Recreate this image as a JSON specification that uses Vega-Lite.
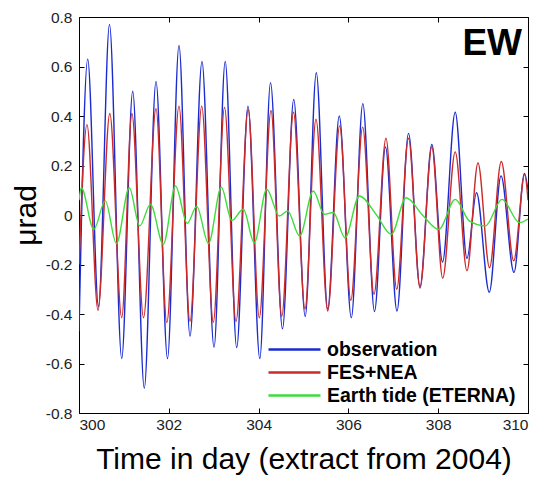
{
  "$schema": "https://vega.github.io/schema/vega-lite/v6.json",
  "width": 449,
  "height": 396,
  "autosize": {"type": "none"},
  "padding": {"left": 79, "top": 17, "right": 27, "bottom": 66},
  "background": "white",
  "config": {
    "font": "Liberation Sans",
    "view": {"stroke": null},
    "axis": {
      "grid": false,
      "domainColor": "#000",
      "domainWidth": 1,
      "tickColor": "#000",
      "tickSize": -5,
      "labelColor": "#222",
      "labelFontSize": 15.5,
      "labelPadding": 12,
      "titleColor": "#000",
      "titleFontWeight": "normal",
      "titleFontSize": 30
    }
  },
  "title": {
    "text": "EW",
    "anchor": "end",
    "frame": "group",
    "orient": "top",
    "offset": -53,
    "dx": -6,
    "fontSize": 37,
    "fontWeight": "bold",
    "color": "#000"
  },
  "data": {
    "values": [
      {"t": 300.000, "v": -0.47, "s": "observation"},
      {"t": 300.194, "v": 0.63, "s": "observation"},
      {"t": 300.434, "v": -0.37, "s": "observation"},
      {"t": 300.679, "v": 0.77, "s": "observation"},
      {"t": 300.951, "v": -0.58, "s": "observation"},
      {"t": 301.196, "v": 0.50, "s": "observation"},
      {"t": 301.454, "v": -0.70, "s": "observation"},
      {"t": 301.715, "v": 0.54, "s": "observation"},
      {"t": 301.971, "v": -0.58, "s": "observation"},
      {"t": 302.227, "v": 0.685, "s": "observation"},
      {"t": 302.472, "v": -0.49, "s": "observation"},
      {"t": 302.739, "v": 0.62, "s": "observation"},
      {"t": 303.007, "v": -0.535, "s": "observation"},
      {"t": 303.256, "v": 0.62, "s": "observation"},
      {"t": 303.512, "v": -0.536, "s": "observation"},
      {"t": 303.764, "v": 0.44, "s": "observation"},
      {"t": 304.027, "v": -0.58, "s": "observation"},
      {"t": 304.265, "v": 0.535, "s": "observation"},
      {"t": 304.532, "v": -0.46, "s": "observation"},
      {"t": 304.782, "v": 0.467, "s": "observation"},
      {"t": 305.038, "v": -0.41, "s": "observation"},
      {"t": 305.285, "v": 0.575, "s": "observation"},
      {"t": 305.539, "v": -0.38, "s": "observation"},
      {"t": 305.797, "v": 0.40, "s": "observation"},
      {"t": 306.065, "v": -0.415, "s": "observation"},
      {"t": 306.321, "v": 0.45, "s": "observation"},
      {"t": 306.581, "v": -0.39, "s": "observation"},
      {"t": 306.826, "v": 0.275, "s": "observation"},
      {"t": 307.082, "v": -0.388, "s": "observation"},
      {"t": 307.339, "v": 0.33, "s": "observation"},
      {"t": 307.595, "v": -0.29, "s": "observation"},
      {"t": 307.858, "v": 0.285, "s": "observation"},
      {"t": 308.096, "v": -0.19, "s": "observation"},
      {"t": 308.379, "v": 0.415, "s": "observation"},
      {"t": 308.641, "v": -0.175, "s": "observation"},
      {"t": 308.853, "v": 0.09, "s": "observation"},
      {"t": 309.138, "v": -0.312, "s": "observation"},
      {"t": 309.399, "v": 0.158, "s": "observation"},
      {"t": 309.688, "v": -0.232, "s": "observation"},
      {"t": 309.922, "v": 0.168, "s": "observation"},
      {"t": 310.000, "v": 0.10, "s": "observation"},

      {"t": 300.000, "v": -0.20, "s": "FES+NEA"},
      {"t": 300.178, "v": 0.365, "s": "FES+NEA"},
      {"t": 300.423, "v": -0.385, "s": "FES+NEA"},
      {"t": 300.686, "v": 0.41, "s": "FES+NEA"},
      {"t": 300.951, "v": -0.415, "s": "FES+NEA"},
      {"t": 301.178, "v": 0.41, "s": "FES+NEA"},
      {"t": 301.437, "v": -0.415, "s": "FES+NEA"},
      {"t": 301.715, "v": 0.43, "s": "FES+NEA"},
      {"t": 301.956, "v": -0.435, "s": "FES+NEA"},
      {"t": 302.227, "v": 0.44, "s": "FES+NEA"},
      {"t": 302.472, "v": -0.43, "s": "FES+NEA"},
      {"t": 302.733, "v": 0.44, "s": "FES+NEA"},
      {"t": 302.991, "v": -0.433, "s": "FES+NEA"},
      {"t": 303.241, "v": 0.435, "s": "FES+NEA"},
      {"t": 303.497, "v": -0.43, "s": "FES+NEA"},
      {"t": 303.768, "v": 0.425, "s": "FES+NEA"},
      {"t": 304.016, "v": -0.415, "s": "FES+NEA"},
      {"t": 304.276, "v": 0.422, "s": "FES+NEA"},
      {"t": 304.515, "v": -0.41, "s": "FES+NEA"},
      {"t": 304.777, "v": 0.415, "s": "FES+NEA"},
      {"t": 305.033, "v": -0.38, "s": "FES+NEA"},
      {"t": 305.278, "v": 0.387, "s": "FES+NEA"},
      {"t": 305.539, "v": -0.388, "s": "FES+NEA"},
      {"t": 305.806, "v": 0.36, "s": "FES+NEA"},
      {"t": 306.054, "v": -0.345, "s": "FES+NEA"},
      {"t": 306.318, "v": 0.355, "s": "FES+NEA"},
      {"t": 306.570, "v": -0.32, "s": "FES+NEA"},
      {"t": 306.837, "v": 0.31, "s": "FES+NEA"},
      {"t": 307.076, "v": -0.30, "s": "FES+NEA"},
      {"t": 307.339, "v": 0.31, "s": "FES+NEA"},
      {"t": 307.595, "v": -0.295, "s": "FES+NEA"},
      {"t": 307.858, "v": 0.275, "s": "FES+NEA"},
      {"t": 308.100, "v": -0.255, "s": "FES+NEA"},
      {"t": 308.379, "v": 0.255, "s": "FES+NEA"},
      {"t": 308.641, "v": -0.225, "s": "FES+NEA"},
      {"t": 308.886, "v": 0.21, "s": "FES+NEA"},
      {"t": 309.143, "v": -0.213, "s": "FES+NEA"},
      {"t": 309.405, "v": 0.216, "s": "FES+NEA"},
      {"t": 309.682, "v": -0.185, "s": "FES+NEA"},
      {"t": 309.927, "v": 0.164, "s": "FES+NEA"},
      {"t": 310.000, "v": 0.06, "s": "FES+NEA"},

      {"t": 300.000, "v": 0.06, "s": "Earth tide (ETERNA)"},
      {"t": 300.051, "v": 0.11, "s": "Earth tide (ETERNA)"},
      {"t": 300.330, "v": -0.058, "s": "Earth tide (ETERNA)"},
      {"t": 300.584, "v": 0.057, "s": "Earth tide (ETERNA)"},
      {"t": 300.833, "v": -0.115, "s": "Earth tide (ETERNA)"},
      {"t": 301.120, "v": 0.11, "s": "Earth tide (ETERNA)"},
      {"t": 301.352, "v": -0.044, "s": "Earth tide (ETERNA)"},
      {"t": 301.592, "v": 0.043, "s": "Earth tide (ETERNA)"},
      {"t": 301.878, "v": -0.118, "s": "Earth tide (ETERNA)"},
      {"t": 302.149, "v": 0.117, "s": "Earth tide (ETERNA)"},
      {"t": 302.410, "v": -0.034, "s": "Earth tide (ETERNA)"},
      {"t": 302.621, "v": 0.035, "s": "Earth tide (ETERNA)"},
      {"t": 302.884, "v": -0.115, "s": "Earth tide (ETERNA)"},
      {"t": 303.169, "v": 0.112, "s": "Earth tide (ETERNA)"},
      {"t": 303.403, "v": -0.022, "s": "Earth tide (ETERNA)"},
      {"t": 303.659, "v": 0.023, "s": "Earth tide (ETERNA)"},
      {"t": 303.904, "v": -0.112, "s": "Earth tide (ETERNA)"},
      {"t": 304.180, "v": 0.104, "s": "Earth tide (ETERNA)"},
      {"t": 304.461, "v": -0.004, "s": "Earth tide (ETERNA)"},
      {"t": 304.648, "v": 0.016, "s": "Earth tide (ETERNA)"},
      {"t": 304.913, "v": -0.085, "s": "Earth tide (ETERNA)"},
      {"t": 305.218, "v": 0.097, "s": "Earth tide (ETERNA)"},
      {"t": 305.463, "v": 0.003, "s": "Earth tide (ETERNA)"},
      {"t": 305.664, "v": 0.010, "s": "Earth tide (ETERNA)"},
      {"t": 305.924, "v": -0.092, "s": "Earth tide (ETERNA)"},
      {"t": 306.243, "v": 0.077, "s": "Earth tide (ETERNA)"},
      {"t": 306.615, "v": 0.003, "s": "Earth tide (ETERNA)"},
      {"t": 306.956, "v": -0.078, "s": "Earth tide (ETERNA)"},
      {"t": 307.283, "v": 0.07, "s": "Earth tide (ETERNA)"},
      {"t": 307.668, "v": -0.004, "s": "Earth tide (ETERNA)"},
      {"t": 308.013, "v": -0.058, "s": "Earth tide (ETERNA)"},
      {"t": 308.381, "v": 0.063, "s": "Earth tide (ETERNA)"},
      {"t": 308.693, "v": -0.024, "s": "Earth tide (ETERNA)"},
      {"t": 309.049, "v": -0.044, "s": "Earth tide (ETERNA)"},
      {"t": 309.421, "v": 0.063, "s": "Earth tide (ETERNA)"},
      {"t": 309.811, "v": -0.031, "s": "Earth tide (ETERNA)"},
      {"t": 310.000, "v": -0.016, "s": "Earth tide (ETERNA)"}
    ]
  },
  "layer": [
    {
      "mark": {"type": "line", "interpolate": "monotone", "strokeWidth": 1.4, "clip": true},
      "encoding": {
        "x": {
          "field": "t", "type": "quantitative",
          "scale": {"domain": [300, 310], "nice": false, "zero": false},
          "axis": {"orient": "bottom", "values": [300, 302, 304, 306, 308, 310], "format": "d", "labelPadding": 9, "title": "Time in day (extract from 2004)", "titlePadding": 12}
        },
        "y": {
          "field": "v", "type": "quantitative",
          "scale": {"domain": [-0.8, 0.8], "nice": false, "zero": false},
          "axis": {"orient": "left", "values": [-0.8, -0.6, -0.4, -0.2, 0, 0.2, 0.4, 0.6, 0.8], "labelExpr": "datum.value == 0 ? '0' : (datum.value < 0 ? '-' : '') + format(abs(datum.value), '.1f')", "title": "μrad", "titlePadding": 4}
        },
        "color": {
          "field": "s", "type": "nominal",
          "scale": {"domain": ["observation", "FES+NEA", "Earth tide (ETERNA)"], "range": ["#1a2bd0", "#cc2a2a", "#3ddc3d"]},
          "legend": {
            "title": null,
            "orient": "none",
            "legendX": 204,
            "legendY": 321,
            "symbolType": "M-2.6,0H2.6",
            "symbolSize": 400,
            "symbolStrokeWidth": 2.5,
            "labelOffset": 21,
            "labelFontSize": 19.5,
            "labelFontWeight": "bold",
            "labelColor": "#000",
            "labelLimit": 0,
            "rowPadding": 2
          }
        },
        "order": {"field": "t", "type": "quantitative"}
      }
    },
    {
      "mark": {"type": "line", "opacity": 0},
      "encoding": {
        "x": {"field": "t", "type": "quantitative", "axis": {"orient": "top", "values": [300, 302, 304, 306, 308, 310], "labels": false, "title": null}},
        "y": {"field": "v", "type": "quantitative", "axis": {"orient": "right", "values": [-0.8, -0.6, -0.4, -0.2, 0, 0.2, 0.4, 0.6, 0.8], "labels": false, "title": null}},
        "detail": {"field": "s"}
      }
    }
  ],
  "resolve": {"axis": {"x": "independent", "y": "independent"}}
}
